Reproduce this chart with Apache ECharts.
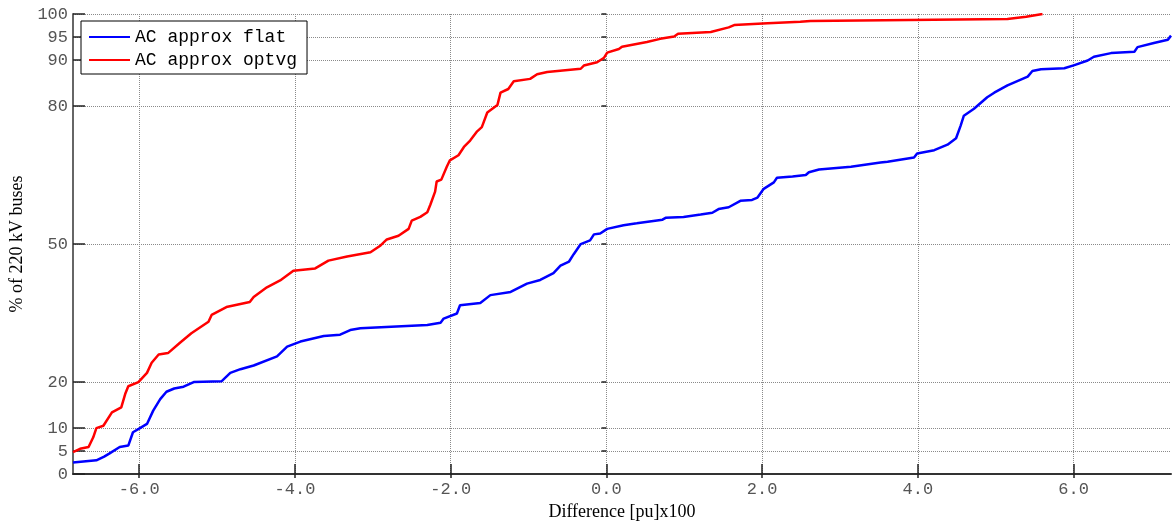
<!DOCTYPE html>
<html>
<head>
<meta charset="utf-8">
<script src="https://cdn.jsdelivr.net/npm/echarts@6/dist/echarts.min.js"></script>
<style>
  html, body { margin: 0; padding: 0; background: #fff; }
  #chart { width: 1172px; height: 526px; }
</style>
</head>
<body>
<div id="chart"></div>
<script>
// x/y (x = difference [pu]x100, y = % of buses)
const flatX = [-6.85, -6.55, -6.45, -6.38, -6.25, -6.14, -6.08, -5.99, -5.90, -5.82, -5.73, -5.65, -5.55, -5.43, -5.30,
  -4.94, -4.83, -4.70, -4.53, -4.23, -4.10, -3.93, -3.63, -3.42, -3.29, -3.16, -2.30, -2.13, -2.09, -1.92, -1.88,
  -1.62, -1.49, -1.23, -1.02, -0.85, -0.68, -0.59, -0.48, -0.42, -0.33, -0.21, -0.16, -0.08, 0.01, 0.22, 0.39,
  0.72, 0.76, 0.99, 1.21, 1.36, 1.44, 1.57, 1.72, 1.87, 1.94, 2.02, 2.15, 2.19, 2.39, 2.56, 2.60, 2.73, 3.14,
  3.52, 3.61, 3.95, 3.99, 4.21, 4.38, 4.49, 4.55, 4.59, 4.72, 4.89, 4.98, 5.15, 5.41, 5.47, 5.58, 5.88, 6.01,
  6.18, 6.26, 6.48, 6.78, 6.82, 7.03, 7.21, 7.25]
const flatY = [2.5, 3.0, 3.8, 4.5, 5.9, 6.2, 9.1, 10.0, 10.9, 13.8, 16.3, 17.9, 18.6, 19.0, 20.0,
  20.2, 22.0, 22.8, 23.6, 25.6, 27.7, 28.8, 30.0, 30.3, 31.3, 31.7, 32.4, 32.9, 33.8, 34.9, 36.7,
  37.2, 38.9, 39.6, 41.4, 42.2, 43.7, 45.3, 46.2, 47.8, 50.0, 50.8, 52.1, 52.3, 53.3, 54.1, 54.5,
  55.3, 55.7, 55.9, 56.4, 56.8, 57.6, 58.0, 59.4, 59.6, 60.1, 62.0, 63.4, 64.4, 64.7, 65.0, 65.6, 66.2, 66.8,
  67.7, 67.9, 68.8, 69.7, 70.4, 71.6, 73.0, 75.8, 77.9, 79.4, 81.9, 82.9, 84.5, 86.4, 87.6, 88.0, 88.2, 88.9,
  89.9, 90.7, 91.5, 91.8, 92.8, 93.7, 94.4, 95.3]

const optX = [-6.85, -6.76, -6.65, -6.59, -6.55, -6.46, -6.35, -6.23, -6.18, -6.14, -6.01, -5.90, -5.84, -5.75, -5.63,
  -5.48, -5.33, -5.11, -5.07, -4.88, -4.58, -4.53, -4.36, -4.19, -4.02, -3.74, -3.57, -3.33, -3.03, -2.90, -2.82,
  -2.67, -2.54, -2.50, -2.39, -2.30, -2.26, -2.20, -2.18, -2.12, -2.05, -2.01, -1.90, -1.83, -1.75, -1.66, -1.60,
  -1.53, -1.40, -1.36, -1.26, -1.19, -0.98, -0.89, -0.76, -0.33, -0.29, -0.12, -0.03, 0.01, 0.16, 0.20, 0.52,
  0.69, 0.87, 0.92, 1.34, 1.57, 1.64, 2.07, 2.49, 2.62, 5.15, 5.39, 5.60]
const optY = [4.8, 5.5, 5.9, 8.0, 10.0, 10.5, 13.4, 14.5, 17.4, 19.1, 20.0, 22.0, 24.2, 26.0, 26.3,
  28.5, 30.6, 33.1, 34.6, 36.3, 37.4, 38.5, 40.6, 42.1, 44.2, 44.7, 46.4, 47.3, 48.2, 49.7, 51.0,
  51.8, 53.3, 55.1, 55.9, 56.9, 58.6, 61.4, 63.6, 64.0, 66.8, 68.2, 69.3, 71.1, 72.5, 74.5, 75.4,
  78.6, 80.2, 82.9, 83.7, 85.4, 85.9, 86.9, 87.4, 88.1, 88.8, 89.5, 90.5, 91.6, 92.4, 92.9, 93.9,
  94.6, 95.1, 95.7, 96.1, 97.1, 97.6, 98.0, 98.3, 98.5, 98.9, 99.4, 100]

const xTicks = [-6, -4, -2, 0, 2, 4, 6]
const yTicks = [0, 5, 10, 20, 50, 80, 90, 95, 100]
const seriesNames = ['AC approx flat', 'AC approx optvg']

const zip = (xs, ys) => xs.map((x, i) => [x, ys[i]])

const mono = 'Liberation Mono'
const serif = 'Liberation Serif'
const gridLine = { show: true, lineStyle: { color: '#8a8a8a', type: 'dotted', width: 1 } }

var chart = echarts.init(document.getElementById('chart'))
chart.setOption({
  animation: false,
  grid: { left: 73, right: 1, top: 14, bottom: 47 },
  legend: {
    orient: 'vertical',
    left: 81, top: 21,
    padding: [7, 10, 5, 8],
    itemGap: 5,
    itemWidth: 41, itemHeight: 2,
    icon: 'rect',
    backgroundColor: '#fff',
    borderColor: '#000', borderWidth: 1,
    textStyle: { fontFamily: mono, fontSize: 18, color: '#000' },
    data: seriesNames
  },
  xAxis: [{
    type: 'value', min: -6.85, max: 7.25,
    name: 'Difference [pu]x100', nameLocation: 'middle', nameGap: 19,
    nameTextStyle: { fontFamily: serif, fontSize: 18, color: '#000' },
    axisLine: { show: true, onZero: false, lineStyle: { color: '#333', width: 2 } },
    axisTick: { show: true, inside: true, length: 10, customValues: xTicks, lineStyle: { color: '#222', width: 1.5 } },
    axisLabel: { customValues: xTicks, margin: 7, fontFamily: mono, fontSize: 17, color: '#555',
      formatter: v => v.toFixed(1) },
    splitLine: gridLine
  }, {
    type: 'value', min: -6.85, max: 7.25, position: 'top',
    axisLine: { show: false },
    axisTick: { show: true, inside: true, length: 4, customValues: xTicks, lineStyle: { color: '#222', width: 1.5 } },
    axisLabel: { show: false },
    splitLine: { show: false }
  }],
  yAxis: [{
    type: 'value', min: 0, max: 100,
    name: '% of 220 kV buses', nameLocation: 'middle', nameGap: 44,
    nameTextStyle: { fontFamily: serif, fontSize: 18, color: '#000' },
    axisLine: { show: true, onZero: false, lineStyle: { color: '#666', width: 2 } },
    axisTick: { show: true, inside: true, length: 12, customValues: yTicks, lineStyle: { color: '#222', width: 1.5 } },
    axisLabel: { customValues: yTicks, margin: 5, fontFamily: mono, fontSize: 17, color: '#555' },
    splitLine: gridLine
  }, {
    type: 'value', min: 0, max: 100, position: 'right',
    axisLine: { show: false },
    axisTick: { show: true, inside: true, length: 5, customValues: yTicks, lineStyle: { color: '#222', width: 1.5 } },
    axisLabel: { show: false },
    splitLine: { show: false }
  }],
  series: [{
    name: seriesNames[0], type: 'line', symbol: 'none', clip: true,
    lineStyle: { color: '#0000ff', width: 2.5 }, itemStyle: { color: '#0000ff' },
    data: zip(flatX, flatY)
  }, {
    name: seriesNames[1], type: 'line', symbol: 'none', clip: true,
    lineStyle: { color: '#ff0000', width: 2.5 }, itemStyle: { color: '#ff0000' },
    data: zip(optX, optY)
  }]
})
</script>
</body>
</html>
